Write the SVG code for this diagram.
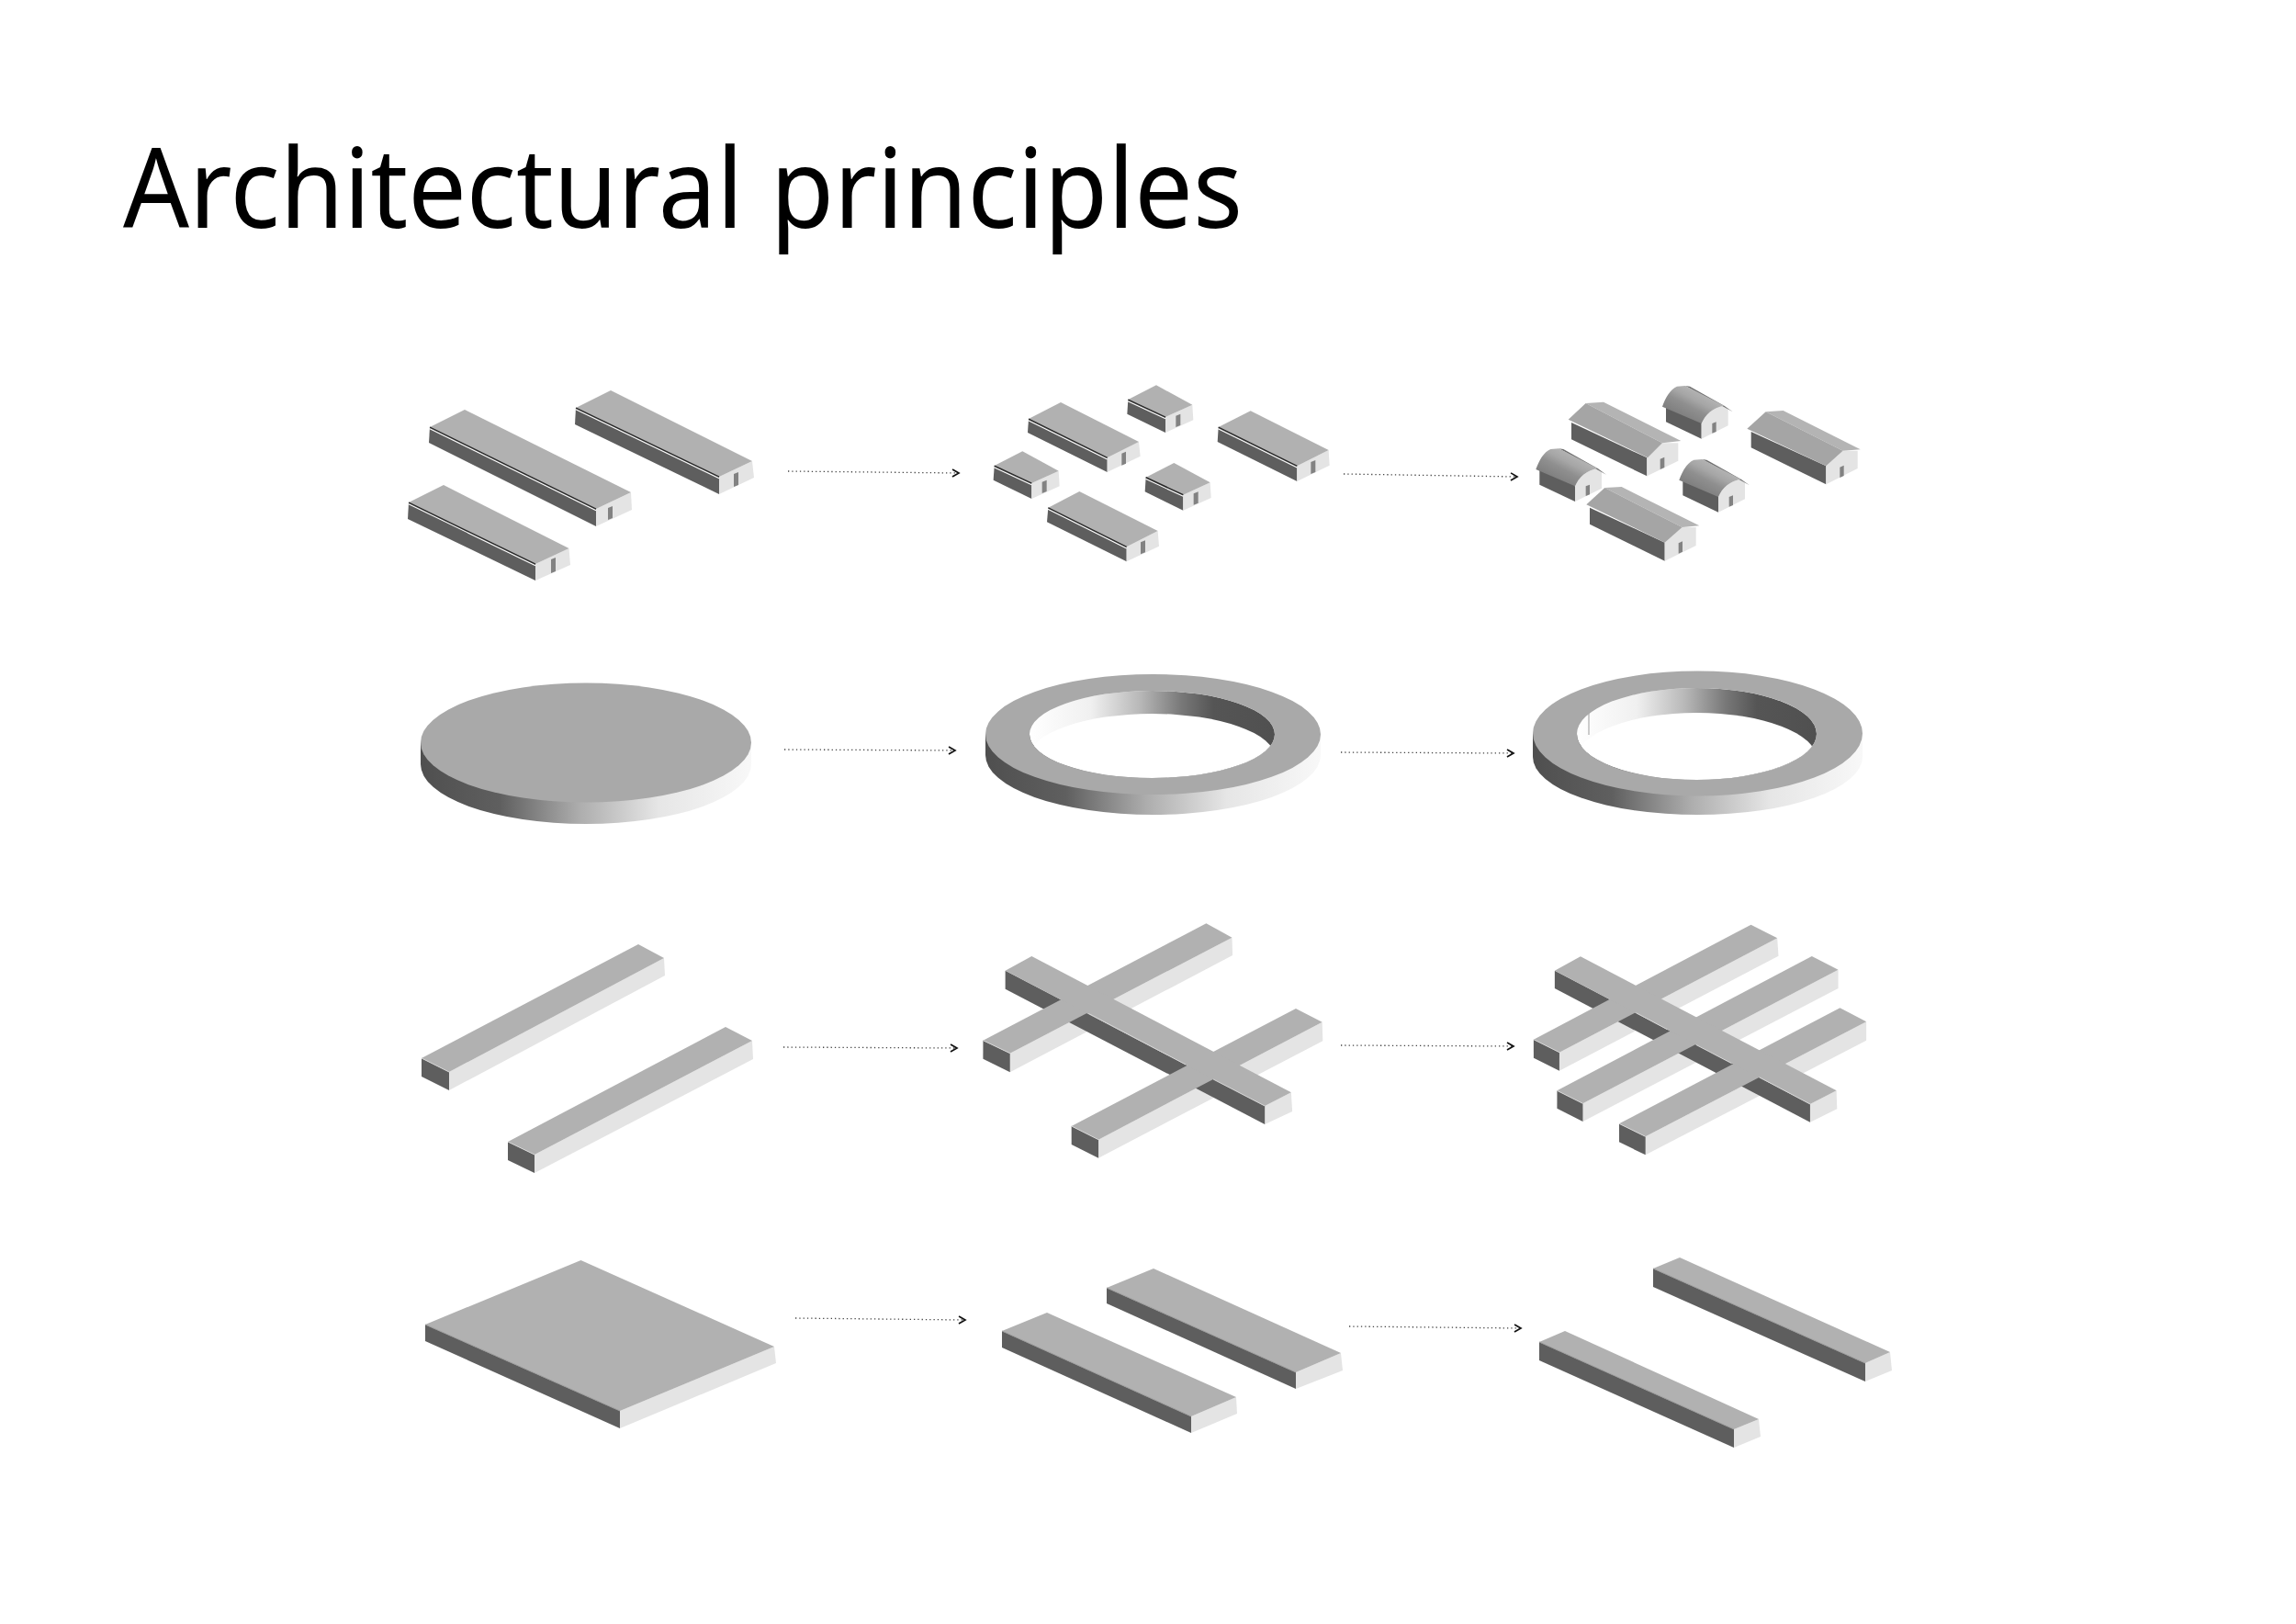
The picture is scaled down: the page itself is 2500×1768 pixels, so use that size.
<svg xmlns="http://www.w3.org/2000/svg" xmlns:xlink="http://www.w3.org/1999/xlink" width="2500" height="1768" viewBox="0 0 2500 1768">
<style>
.t{fill:#b1b1b1}.d{fill:#5e5e5e}.l{fill:#e4e4e4}.door{fill:#828282}
.e1{fill:none;stroke:#222;stroke-width:1.2;vector-effect:non-scaling-stroke}.e2{fill:none;stroke:#fff;stroke-width:1.1;vector-effect:non-scaling-stroke}
.h{fill:none;stroke:#d4d4d4;stroke-width:1;vector-effect:non-scaling-stroke}
.rf{fill:#a5a5a5}.rb{fill:#b4b4b4}.g{fill:#e4e4e4}
.ring{fill:#a9a9a9}
.arrow{fill:none;stroke:#444;stroke-width:1.3;stroke-dasharray:1.3 3;marker-end:url(#head)}
.title{font-family:"Noto Sans","Open Sans","Liberation Sans",sans-serif;font-size:121px;fill:#000}
</style>
<defs>
<marker id="head" markerUnits="userSpaceOnUse" markerWidth="12" markerHeight="12" refX="8" refY="5" orient="auto">
<path d="M1,1 L8,5 L1,9" fill="none" stroke="#111" stroke-width="1.7"/>
</marker>
<linearGradient id="outer" x1="0" x2="1" y1="0" y2="0">
<stop offset="0" stop-color="#4f4f4f"/><stop offset=".24" stop-color="#5f5f5f"/><stop offset=".48" stop-color="#adadad"/><stop offset=".72" stop-color="#e6e6e6"/><stop offset="1" stop-color="#f8f8f8"/>
</linearGradient>
<linearGradient id="inner" x1="0" x2="1" y1="0" y2="0">
<stop offset="0" stop-color="#ffffff"/><stop offset=".25" stop-color="#f0f0f0"/><stop offset=".45" stop-color="#b8b8b8"/><stop offset=".62" stop-color="#787878"/><stop offset=".75" stop-color="#555555"/><stop offset="1" stop-color="#505050"/>
</linearGradient>
<linearGradient id="curve" gradientUnits="userSpaceOnUse" x1="565" y1="170" x2="615" y2="75">
<stop offset="0" stop-color="#7a7a7a"/><stop offset=".5" stop-color="#8f8f8f"/><stop offset=".75" stop-color="#a6a6a6"/><stop offset="1" stop-color="#b2b2b2"/>
</linearGradient>
<clipPath id="h2"><ellipse cx="1254.5" cy="799.5" rx="133.5" ry="47.5"/></clipPath>
<clipPath id="h3"><ellipse cx="1847.5" cy="799" rx="130.5" ry="50"/></clipPath>
<g id="smallbox">
<polygon class="d" points="505,105 627,162 627,213 502,152"/>
<polygon class="l" points="627,162 715,122 718,172 627,213"/>
<polygon class="t" points="597,58 715,122 627,162 505,105"/>
<path class="e1" d="M505,105 L627,162"/><path class="e2" d="M504,110 L627,167"/>
<polygon class="door" points="661,158 676,152 676,189 661,195"/>
</g>
<g id="curvehouse">
<path class="d" d="M522,130 L522,178 L638,233 L638,178 Z"/>
<path class="g" d="M638,233 L725,190 L725,135 L712,125 C675,130 650,155 638,183 Z"/>
<path d="M585,60 L740,145 L712,125 L600,62 Z" fill="#707070"/>
<path d="M510,128 L638,183 C650,155 675,130 712,125 L585,60 L558,62 C535,72 520,100 510,128 Z" fill="url(#curve)"/>
<polygon class="door" points="673,183 686,178 686,210 673,215"/>
</g>
</defs>
<rect width="2500" height="1768" fill="#fff"/>
<text id="title" class="title" x="134" y="248" textLength="1219" lengthAdjust="spacingAndGlyphs">Architectural principles</text>

<g id="connectors">
<path class="arrow" d="M858,513 L1044,515"/>
<path class="arrow" d="M1463,516 L1652,519"/>
<path class="arrow" d="M854,816 L1040,817"/>
<path class="arrow" d="M1460,819 L1648,820"/>
<path class="arrow" d="M853,1140 L1042,1141"/>
<path class="arrow" d="M1460,1138 L1648,1139"/>
<path class="arrow" d="M866,1435 L1051,1437"/>
<path class="arrow" d="M1469,1444 L1656,1446"/>
</g>

<g id="row1-a">
<g id="r1a-long">
<polygon class="d" points="468,465 649,554 649,573 467,482"/>
<polygon class="l" points="649,554 687,536 688,555 649,573"/>
<polygon class="t" points="506,446 687,536 649,554 468,465"/>
<path class="e1" d="M468,465 L649,554"/><path class="e2" d="M468,466.700 L649,555.700"/>
<polygon class="door" points="662,553 667,551 667,564 662,566"/>
</g>
<g id="r1a-upper">
<polygon class="d" points="627,444 783,519 783,538 626,462"/>
<polygon class="l" points="783,519 819,502 821,520 783,538"/>
<polygon class="t" points="665,425 819,502 783,519 627,444"/>
<path class="e1" d="M627,444 L783,519"/><path class="e2" d="M627,445.700 L783,520.700"/>
<polygon class="door" points="799,516 804,514 804,528 799,530"/>
</g>
<g id="r1a-lower">
<polygon class="d" points="445,547 583,614 583,632 444,565"/>
<polygon class="l" points="583,614 619.5,597 621,615 583,632"/>
<polygon class="t" points="483,528 619.5,597 583,614 445,547"/>
<path class="e1" d="M445,547 L583,614"/><path class="e2" d="M445,548.700 L583,615.700"/>
<polygon class="door" points="600,609 605,607 605,622 600,624"/>
</g>
</g>

<g id="row1-b" transform="translate(1060,400) scale(.33333)">
<g id="r1b-d">
<polygon class="d" points="180,168 437,295 437,342 177,213"/>
<polygon class="l" points="437,295 540,243 545,290 437,342"/>
<polygon class="t" points="285,114 540,243 437,295 180,168"/>
<path class="e1" d="M180,168 L437,295"/><path class="e2" d="M179,173 L437,300"/>
<polygon class="door" points="484,281 498,275 498,314 484,320"/>
</g>
<use id="r1b-e" xlink:href="#smallbox" href="#smallbox"/>
<g id="r1b-f">
<polygon class="d" points="800,195 1057,322 1057,372 797,243"/>
<polygon class="l" points="1057,322 1160,270 1163,320 1057,372"/>
<polygon class="t" points="905,142 1160,270 1057,322 800,195"/>
<path class="e1" d="M800,195 L1057,322"/><path class="e2" d="M799,200 L1057,327"/>
<polygon class="door" points="1102,309 1117,303 1117,342 1102,348"/>
</g>
<use id="r1b-g" xlink:href="#smallbox" href="#smallbox" transform="translate(-437,216)"/>
<use id="r1b-h" xlink:href="#smallbox" href="#smallbox" transform="translate(58,254)"/>
<g id="r1b-i">
<polygon class="d" points="244,458 500,586 500,634 240,505"/>
<polygon class="l" points="500,586 602,534 606,584 500,634"/>
<polygon class="t" points="346,405 602,534 500,586 244,458"/>
<path class="e1" d="M244,458 L500,586"/><path class="e2" d="M243,463 L500,591"/>
<polygon class="door" points="546,571 561,565 561,604 546,610"/>
</g>
</g>

<g id="row1-c" transform="translate(1640,400) scale(.33333)">
<g id="r1c-big">
<polygon class="d" points="213,180 460,295 460,355 213,235"/>
<polygon class="g" points="460,295 510,247 562,247 562,305 460,355"/>
<polygon class="rb" points="260,117 318,113 571,240 510,247"/>
<polygon class="rf" points="203,170 260,117 510,247 462,295"/>
<polygon class="door" points="503,299 517,293 517,327 503,333"/>
</g>
<use id="r1c-e" xlink:href="#curvehouse" href="#curvehouse"/>
<g id="r1c-f">
<polygon class="d" points="800,210 1045,322 1045,382 800,262"/>
<polygon class="g" points="1045,322 1100,272 1148,272 1148,330 1045,382"/>
<polygon class="rb" points="848,145 905,141 1157,268 1100,272"/>
<polygon class="rf" points="787,200 848,145 1100,272 1045,322"/>
<polygon class="door" points="1090,326 1103,320 1103,354 1090,360"/>
</g>
<use id="r1c-g" xlink:href="#curvehouse" href="#curvehouse" transform="translate(-413,205)"/>
<use id="r1c-h" xlink:href="#curvehouse" href="#curvehouse" transform="translate(55,240)"/>
<g id="r1c-i">
<polygon class="d" points="273,458 518,572 518,632 273,512"/>
<polygon class="g" points="518,572 575,522 620,522 620,582 518,632"/>
<polygon class="rb" points="322,393 377,390 631,517 575,522"/>
<polygon class="rf" points="262,448 322,393 575,522 518,572"/>
<polygon class="door" points="563,574 576,568 576,602 563,608"/>
</g>
</g>

<g id="row2-disc">
<path d="M458,808.5 L458,832 A180,65 0 0 0 818,832 L818,808.5 Z" fill="url(#outer)"/>
<ellipse class="ring" cx="638" cy="808.5" rx="180" ry="65"/>
</g>
<g id="row2-ring">
<path d="M1073,799.5 L1073,822 A182.5,65 0 0 0 1438,822 L1438,799.5 Z" fill="url(#outer)"/>
<ellipse cx="1254.5" cy="799.5" rx="133.5" ry="47.5" fill="url(#inner)"/>
<ellipse cx="1254.5" cy="824.5" rx="133.5" ry="47.5" fill="#fff" clip-path="url(#h2)"/>
<path class="ring" fill-rule="evenodd" d="M1073,799.5 A182.5,65.5 0 1 1 1438,799.5 A182.5,65.5 0 1 1 1073,799.5 Z M1121,799.5 A133.5,47.5 0 1 0 1388,799.5 A133.5,47.5 0 1 0 1121,799.5 Z"/>
</g>
<g id="row2-ring-open">
<path d="M1669,798.5 L1669,824 A179.5,63 0 0 0 2028,824 L2028,798.5 Z" fill="url(#outer)"/>
<ellipse cx="1847.5" cy="799" rx="130.5" ry="50" fill="url(#inner)"/>
<ellipse cx="1847.5" cy="826" rx="130.5" ry="50" fill="#fff" clip-path="url(#h3)"/>
<path d="M1730,773 L1730,800" stroke="#9a9a9a" stroke-width="1" fill="none"/>
<path class="ring" fill-rule="evenodd" d="M1669,798.5 A179.5,68 0 1 1 2028,798.5 A179.5,68 0 1 1 1669,798.5 Z M1717,799 A130.5,50 0 1 0 1978,799 A130.5,50 0 1 0 1717,799 Z"/>
</g>

<g id="row3-a">
<g id="r3a-upper">
<polygon class="l" points="489,1167 723,1043 724,1062 489,1187"/>
<polygon class="d" points="459,1152 489,1167 489,1187 459,1172"/>
<polygon class="t" points="695,1028 723,1043 489,1167 459,1152"/>
<path class="h" d="M459,1152 L489,1167"/>
</g>
<g id="r3a-lower">
<polygon class="l" points="582,1257 819,1133 820,1153 582,1277"/>
<polygon class="d" points="553,1243 582,1257 582,1277 553,1263"/>
<polygon class="t" points="790,1118 819,1133 582,1257 553,1243"/>
<path class="h" d="M553,1243 L582,1257"/>
</g>
</g>

<g id="row3-b" transform="translate(1050,990) scale(.63776,.33333)">
<polygon class="l" points="457,92 458,150 78,532 78,470"/>
<polygon class="l" points="611,368 612,430 229,812 229,752"/>
<polygon class="l" points="558,598 560,660 513,702 513,642"/>
<polygon class="d" points="70,200 513,642 513,702 70,260"/>
<polygon class="d" points="32,428 78,470 78,532 32,488"/>
<polygon class="d" points="183,708 229,752 229,812 183,768"/>
<polygon class="t" points="413,46 457,92 78,470 32,428"/>
<polygon class="t" points="566,324 611,368 229,752 183,708"/>
<polygon class="t" points="115,153 558,598 513,642 70,200"/>
<path class="h" d="M32,428 L78,470 M183,708 L229,752 M212,340 L378,507 M425,555 L513,642"/>
</g>

<g id="row3-c" transform="translate(1050,990) scale(.63776,.33333)">
<polygon class="l" points="1388,94 1390,152 1016,527 1016,467"/>
<polygon class="l" points="1492,197 1492,258 1056,693 1056,634"/>
<polygon class="l" points="1540,367 1540,428 1163,802 1163,742"/>
<polygon class="l" points="1489,592 1490,652 1444,695 1444,636"/>
<polygon class="d" points="1008,200 1444,636 1444,695 1008,258"/>
<polygon class="d" points="972,425 1016,467 1016,527 972,485"/>
<polygon class="d" points="1012,592 1056,634 1056,693 1012,650"/>
<polygon class="d" points="1118,700 1163,742 1163,802 1118,760"/>
<polygon class="t" points="1343,50 1388,94 1016,467 972,425"/>
<polygon class="t" points="1447,153 1492,197 1056,634 1012,592"/>
<polygon class="t" points="1495,322 1540,367 1163,742 1118,700"/>
<polygon class="t" points="1052,154 1489,592 1444,636 1008,200"/>
<path class="h" d="M972,425 L1016,467 M1012,592 L1056,634 M1118,700 L1163,742 M1147,338 L1200,392 M1249,442 L1310,503 M1357,548 L1444,636"/>
</g>

<g id="row4-plate">
<polygon class="d" points="463,1442 675,1536 675,1555 463,1460"/>
<polygon class="l" points="675,1536 843,1466 845,1484 675,1555"/>
<polygon class="t" points="632.5,1372 843,1466 675,1536 463,1442"/>
<path class="h" style="stroke:#999" d="M463,1442 L675,1536"/>
</g>
<g id="row4-b1">
<polygon class="d" points="1205,1402 1411,1494 1411,1512 1205,1419"/>
<polygon class="l" points="1411,1494 1460,1473 1462,1492 1411,1512"/>
<polygon class="t" points="1256,1381 1460,1473 1411,1494 1205,1402"/>
<path class="h" style="stroke:#999" d="M1205,1402 L1411,1494"/>
</g>
<g id="row4-b2">
<polygon class="d" points="1091,1449 1297,1542 1297,1560 1091,1467"/>
<polygon class="l" points="1297,1542 1346,1521 1347,1539 1297,1560"/>
<polygon class="t" points="1140,1429 1346,1521 1297,1542 1091,1449"/>
<path class="h" style="stroke:#999" d="M1091,1449 L1297,1542"/>
</g>
<g id="row4-c1">
<polygon class="d" points="1800,1381 2031,1484 2031,1504 1800,1401"/>
<polygon class="l" points="2031,1484 2058,1472 2060,1492 2031,1504"/>
<polygon class="t" points="1829,1369 2058,1472 2031,1484 1800,1381"/>
<path class="h" style="stroke:#999" d="M1800,1381 L2031,1484"/>
</g>
<g id="row4-c2">
<polygon class="d" points="1676,1461 1888,1556 1888,1576 1676,1481"/>
<polygon class="l" points="1888,1556 1915,1545 1917,1564 1888,1576"/>
<polygon class="t" points="1704,1449 1915,1545 1888,1556 1676,1461"/>
<path class="h" style="stroke:#999" d="M1676,1461 L1888,1556"/>
</g>
</svg>
